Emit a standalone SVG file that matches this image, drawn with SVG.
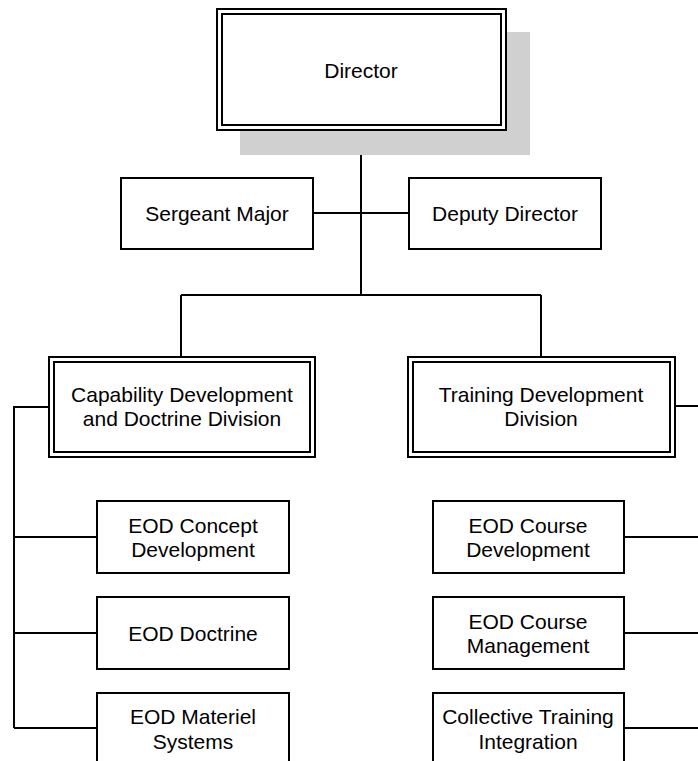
<svg xmlns="http://www.w3.org/2000/svg" width="698" height="761" viewBox="0 0 698 761">
<style>
.box{fill:#fff;stroke:#000;stroke-width:2}
.inner{fill:none;stroke:#000;stroke-width:2}
.line{fill:none;stroke:#000;stroke-width:2}
text{font-family:"Liberation Sans",Arial,sans-serif;font-size:21px;fill:#000;text-anchor:middle;dominant-baseline:central}
</style>
<rect width="698" height="761" fill="#fff"/>
<g id="connectors">
<path class="line" d="M361,130 V295 M313,213 H409 M181,295 H541 M181,295 V357 M541,295 V357"/>
<path class="line" d="M49,407 H14 V728 M14,537 H97 M14,633 H97 M14,728 H97"/>
<path class="line" d="M675,406 H698 M624,537 H698 M624,633 H698 M624,728 H698"/>
</g>
<g id="director">
<rect x="240" y="32" width="290" height="123" fill="#d0d0d0"/>
<rect class="box" x="217" y="9" width="289" height="121"/>
<rect class="inner" x="222" y="14" width="279" height="111"/>
<text x="361" y="70">Director</text>
</g>
<g id="sergeant-major">
<rect class="box" x="121" y="178" width="192" height="71"/>
<text x="217" y="213">Sergeant Major</text>
</g>
<g id="deputy-director">
<rect class="box" x="409" y="178" width="192" height="71"/>
<text x="505" y="213">Deputy Director</text>
</g>
<g id="capability">
<rect class="box" x="49" y="357" width="266" height="100"/>
<rect class="inner" x="54" y="362" width="256" height="90"/>
<text x="182" y="394">Capability Development</text>
<text x="182" y="418">and Doctrine Division</text>
</g>
<g id="training">
<rect class="box" x="408" y="357" width="267" height="100"/>
<rect class="inner" x="413" y="362" width="257" height="90"/>
<text x="541" y="394">Training Development</text>
<text x="541" y="418">Division</text>
</g>
<g id="eod-concept">
<rect class="box" x="97" y="501" width="192" height="72"/>
<text x="193" y="525">EOD Concept</text>
<text x="193" y="549">Development</text>
</g>
<g id="eod-doctrine">
<rect class="box" x="97" y="597" width="192" height="72"/>
<text x="193" y="633">EOD Doctrine</text>
</g>
<g id="eod-materiel">
<rect class="box" x="97" y="693" width="192" height="90"/>
<text x="193" y="716">EOD Materiel</text>
<text x="193" y="741">Systems</text>
</g>
<g id="eod-course-dev">
<rect class="box" x="433" y="501" width="191" height="72"/>
<text x="528" y="525">EOD Course</text>
<text x="528" y="549">Development</text>
</g>
<g id="eod-course-mgmt">
<rect class="box" x="433" y="597" width="191" height="72"/>
<text x="528" y="621">EOD Course</text>
<text x="528" y="645">Management</text>
</g>
<g id="collective-training">
<rect class="box" x="433" y="693" width="191" height="90"/>
<text x="528" y="716">Collective Training</text>
<text x="528" y="741">Integration</text>
</g>
</svg>
